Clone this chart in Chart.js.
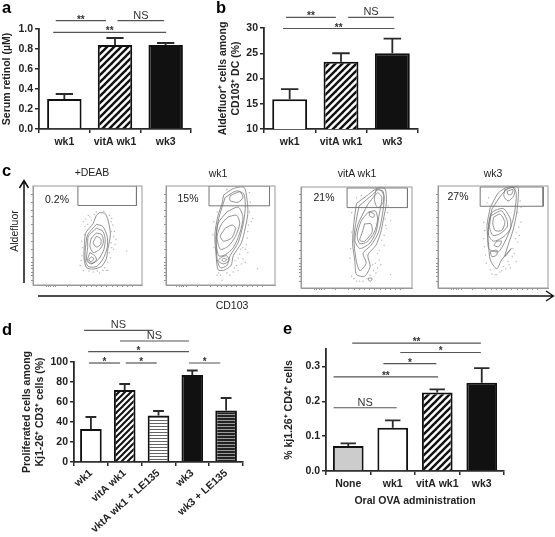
<!DOCTYPE html>
<html>
<head>
<meta charset="utf-8">
<title>Figure</title>
<script src="https://cdn.jsdelivr.net/npm/chart.js@4/dist/chart.umd.min.js"></script>
<style>
  html, body { margin: 0; background: #fff; }
  #fig { position: relative; width: 555px; height: 537px; overflow: hidden; filter: blur(0.3px); }
  #fig canvas { position: absolute; }
  #fig svg { position: absolute; left: 0; top: 0; }
  svg text { font-family: "Liberation Sans", Arial, sans-serif; fill: #222; }
  .letter { font-size: 16.5px; font-weight: bold; fill: #000; }
  .plain { font-size: 10.5px; text-anchor: middle; }
</style>
</head>
<body>
<div id="fig">
  <svg width="555" height="537">
    <text class="letter" x="2" y="13">a</text>
    <text class="letter" x="216" y="13">b</text>
    <text class="letter" x="2" y="176">c</text>
    <text class="letter" x="2" y="335">d</text>
    <text class="letter" x="283" y="334">e</text>

    <text class="plain" x="92" y="175.5">+DEAB</text>
    <text class="plain" x="218" y="176.5">wk1</text>
    <text class="plain" x="357" y="176.5">vitA wk1</text>
    <text class="plain" x="493" y="176.5">wk3</text>
    <text class="plain" x="57" y="202.5">0.2%</text>
    <text class="plain" x="188" y="202">15%</text>
    <text class="plain" x="324" y="201">21%</text>
    <text class="plain" x="458" y="200">27%</text>
    <text class="plain" transform="translate(17.5,231) rotate(-90)">Aldefluor</text>
    <text class="plain" x="232" y="309">CD103</text>

    <path d="M24 283 V181 M19.5 188 L24 180.5 L28.5 188" fill="none" stroke="#111" stroke-width="1.5"/>
    <path d="M38 296 H553 M546 291 L553.5 296 L546 301" fill="none" stroke="#111" stroke-width="1.3"/>
  </svg>
  <canvas id="chartA" width="200" height="165" style="left:0;top:0"></canvas>
  <canvas id="chartB" width="215" height="165" style="left:210px;top:0"></canvas>
  <canvas id="chartD" width="235" height="227" style="left:15px;top:310px"></canvas>
  <canvas id="chartE" width="240" height="197" style="left:275px;top:310px"></canvas>
  <canvas id="facs1" width="119" height="109" style="left:27px;top:182px"></canvas>
  <canvas id="facs2" width="119" height="109" style="left:160px;top:182px"></canvas>
  <canvas id="facs3" width="121" height="111" style="left:295px;top:183px"></canvas>
  <canvas id="facs4" width="120" height="112" style="left:432px;top:182px"></canvas>
</div>

<script>
// panel a
const aLabels = ["wk1", "vitA wk1", "wk3"];
const aValues = [0.30, 0.84, 0.84];
const aErrTop = [0.35, 0.91, 0.86];
const aSig = [[-0.17, 0.82, 1.084, "**"], [1.05, 1.97, 1.084, "NS"], [-0.22, 2.01, 0.967, "**"]];

// panel b
const bLabels = ["wk1", "vitA wk1", "wk3"];
const bValues = [15.9, 23.3, 25.0];
const bErrTop = [17.9, 25.0, 27.9];
const bSig = [[-0.07, 0.9, 32.1, "**"], [1.14, 2.03, 32.1, "NS"], [-0.13, 2.04, 29.9, "**"]];

// panel d
const dLabels = ["wk1", "vitA wk1", "vktA wk1 + LE135", "wk3", "wk3 + LE135"];
const dValues = [33, 72, 46.5, 87, 51.5];
const dErrTop = [45, 78, 51, 91.5, 64];
const dSig = [
  [-0.2, 1.83, 131.7, "NS"], [0.86, 2.9, 121, "NS"], [-0.08, 2.9, 110.4, "*"],
  [-0.06, 0.86, 99, "*"], [1.03, 1.95, 99, "*"], [2.9, 3.83, 99, "*"]
];

// panel e
const eLabels = ["None", "wk1", "vitA wk1", "wk3"];
const eValues = [0.072, 0.124, 0.225, 0.253];
const eErrTop = [0.079, 0.145, 0.234, 0.295];
const eSig = [
  [0.09, 2.98, 0.367, "**"], [1.17, 2.98, 0.34, "*"], [0.79, 1.98, 0.308, "*"],
  [-0.33, 2.02, 0.27, "**"], [-0.33, 1.09, 0.1815, "NS"]
];

// panel c: flow plots, values in channel units
const facsTicksX = [50, 58, 65, 72, 80, 115, 155, 175, 190, 205, 220, 235, 255, 270, 285, 300, 315];
const facsTicksY = [35, 60, 85, 105, 130, 155, 180, 205, 230, 245, 255, 265, 275, 285, 300];

const deabLimits = [10, 345, 10, 315];
const deabGate = [[148, 10], [328, 10], [328, 70], [148, 70], [148, 10]];
const deabContours = [
  [[215,92],[232,95],[243,125],[248,160],[240,205],[235,235],[220,258],[195,266],[175,262],[167,235],[168,190],[172,155],[195,125],[205,100],[215,92]],
  [[205,128],[225,135],[238,165],[238,200],[225,235],[205,258],[180,258],[170,235],[172,195],[178,160],[205,128]],
  [[205,140],[225,150],[232,175],[228,205],[212,235],[190,250],[175,240],[178,200],[180,165],[205,140]],
  [[205,155],[222,160],[226,185],[215,205],[195,215],[185,195],[190,170],[205,155]],
  [[205,165],[218,172],[218,190],[205,198],[195,185],[205,165]],
  [[185,215],[200,225],[205,238],[190,248],[178,238],[185,215]],
  [[190,228],[198,235],[188,243],[182,236],[190,228]]
];
const deabDots = [[180,100],[190,115],[245,100],[255,130],[260,150],[265,175],[250,185],[245,215],[240,245],[235,270],[215,278],[195,275],[165,270],[160,225],[160,180],[170,135],[165,120],[205,90],[298,210],[258,205],[225,270],[250,120],[185,105],[240,270],[155,255],[250,150],[172,112],[198,98],[228,88],[252,110],[258,165],[252,200],[262,190],[248,232],[230,262],[208,272],[182,272],[158,240],[162,200],[168,160],[178,128],[240,112]];

const wk1Limits = [17, 354, 10, 315];
const wk1Gate = [[150, 10], [337, 10], [337, 71], [150, 71], [150, 10]];
const wk1Contours = [
  [[195,38],[225,18],[258,14],[268,55],[270,95],[262,140],[250,185],[225,225],[218,255],[195,270],[178,268],[172,225],[168,160],[178,100],[190,65],[195,38]],
  [[200,45],[235,25],[258,35],[262,80],[255,130],[240,185],[215,225],[205,255],[185,262],[175,235],[172,165],[180,110],[200,45]],
  [[205,90],[240,75],[255,105],[245,155],[225,200],[200,222],[180,225],[172,180],[178,125],[205,90]],
  [[210,105],[235,100],[245,125],[232,165],[210,195],[185,205],[175,165],[190,125],[210,105]],
  [[200,140],[222,130],[232,140],[220,170],[195,180],[185,165],[200,140]],
  [[190,228],[205,225],[212,240],[195,250],[178,240],[190,228]],
  [[195,232],[205,237],[195,243],[190,238],[195,232]],
  [[215,40],[245,28],[255,45],[240,60],[215,55],[215,40]]
];
const wk1Dots = [[185,285],[190,300],[230,240],[245,220],[262,205],[255,235],[270,150],[280,120],[275,90],[205,20],[175,90],[165,120],[215,285],[240,270],[300,265],[175,285],[235,255],[265,190],[285,110],[262,245],[272,130],[268,170],[255,200],[240,232],[228,262],[205,278],[180,278],[165,200],[162,160],[172,70],[278,60],[275,30],[250,250],[225,275],[270,215],[248,205]];

const vitaLimits = [9, 351, 12, 321];
const vitaGate = [[151, 15], [337, 15], [337, 75], [151, 75], [151, 15]];
const vitaContours = [
  [[180,62],[210,40],[245,15],[268,18],[272,60],[262,115],[255,150],[240,190],[215,220],[222,255],[205,285],[180,280],[175,240],[168,185],[172,120],[180,62]],
  [[188,70],[230,35],[250,18],[265,40],[260,95],[248,150],[225,190],[200,215],[210,245],[190,268],[178,230],[172,170],[180,110],[188,70]],
  [[215,65],[245,30],[258,45],[250,95],[240,150],[220,185],[190,200],[175,175],[185,125],[215,65]],
  [[215,90],[238,85],[245,110],[235,150],[212,180],[190,185],[182,160],[195,115],[215,90]],
  [[220,88],[235,95],[232,105],[220,100],[220,88]],
  [[205,125],[225,125],[228,150],[205,178],[190,175],[198,150],[205,125]],
  [[240,20],[262,25],[262,60],[245,75],[235,50],[240,20]],
  [[218,290],[228,292],[224,300],[216,296],[218,290]]
];
const vitaDots = [[180,45],[165,90],[275,90],[285,115],[265,160],[250,235],[245,260],[190,300],[240,275],[160,230],[200,300],[270,130],[230,250],[265,190],[180,300],[285,280],[165,285],[250,205],[278,70],[272,140],[258,175],[245,215],[232,268],[222,282],[172,292],[162,200],[165,150],[195,38],[238,245],[212,292],[255,250],[268,110]];

const wk3Limits = [9, 348, 9, 321];
const wk3Gate = [[139, 12], [333, 12], [333, 71], [139, 71], [139, 12]];
const wk3Contours = [
  [[170,75],[195,30],[225,12],[255,12],[255,60],[250,100],[240,145],[225,190],[215,225],[235,200],[205,235],[190,262],[170,235],[165,190],[160,130],[170,75]],
  [[175,80],[205,35],[235,12],[250,30],[245,90],[232,140],[215,180],[195,210],[165,200],[165,130],[175,80]],
  [[165,125],[175,90],[210,78],[232,110],[232,140],[210,165],[180,178],[165,160],[165,125]],
  [[172,100],[205,85],[222,115],[222,135],[200,155],[178,160],[168,135],[172,100]],
  [[180,105],[200,95],[215,120],[205,145],[185,145],[178,125],[180,105]],
  [[190,178],[205,178],[195,195],[182,190],[190,178]],
  [[170,210],[190,205],[190,220],[175,225],[170,210]],
  [[215,20],[245,14],[242,40],[225,55],[212,40],[215,20]],
  [[222,25],[240,20],[235,35],[225,35],[222,25]]
];
const wk3Dots = [[160,60],[255,90],[265,120],[250,150],[240,200],[225,240],[245,215],[170,265],[185,280],[150,170],[255,180],[210,255],[150,120],[232,260],[190,280],[265,75],[155,220],[262,55],[258,135],[248,170],[238,225],[218,262],[200,272],[175,278],[158,245],[152,195],[153,145],[165,45],[228,250],[260,160],[250,240],[205,268]];

Chart.defaults.animation = false;
Chart.defaults.responsive = false;
Chart.defaults.font.family = '"Liberation Sans", Arial, sans-serif';
Chart.defaults.plugins.legend.display = false;
Chart.defaults.plugins.tooltip.enabled = false;

const INK = "#222";
const LINE = "#2a2a2a";

function hatchFill(size, width) {
  let c = document.createElement("canvas");
  c.width = size; c.height = size;
  let t = c.getContext("2d");
  t.fillStyle = "#fff";
  t.fillRect(0, 0, size, size);
  t.strokeStyle = "#111";
  t.lineWidth = width;
  [[0, size, size, 0], [-size, size, size, -size], [0, 2 * size, 2 * size, 0]].forEach(p => {
    t.beginPath(); t.moveTo(p[0], p[1]); t.lineTo(p[2], p[3]); t.stroke();
  });
  return t.createPattern(c, "repeat");
}

function stripeFill(rows) {
  let c = document.createElement("canvas");
  c.width = 1; c.height = rows.length;
  let t = c.getContext("2d");
  rows.forEach((col, i) => { t.fillStyle = col; t.fillRect(0, i, 1, 1); });
  return t.createPattern(c, "repeat");
}

function barPanel(id, o) {
  const errorBars = {
    id: "errorBars",
    afterDatasetsDraw(chart) {
      let ctx = chart.ctx, y = chart.scales.y;
      ctx.save();
      ctx.strokeStyle = LINE;
      ctx.lineWidth = 1.8;
      chart.getDatasetMeta(0).data.forEach((bar, i) => {
        let top = y.getPixelForValue(o.errTop[i]);
        let base = y.getPixelForValue(o.values[i]);
        let cap = bar.width * 0.25;
        ctx.beginPath();
        ctx.moveTo(bar.x, base); ctx.lineTo(bar.x, top);
        ctx.moveTo(bar.x - cap, top); ctx.lineTo(bar.x + cap, top);
        ctx.stroke();
      });
      ctx.restore();
    }
  };
  const sigLines = {
    id: "sigLines",
    afterDraw(chart) {
      let ctx = chart.ctx, xs = chart.scales.x, ys = chart.scales.y;
      ctx.save();
      ctx.textAlign = "center";
      ctx.textBaseline = "alphabetic";
      o.sig.forEach(s => {
        let x0 = xs.getPixelForValue(s[0]), x1 = xs.getPixelForValue(s[1]), yy = ys.getPixelForValue(s[2]);
        ctx.strokeStyle = "#555";
        ctx.lineWidth = 1.2;
        ctx.beginPath(); ctx.moveTo(x0, yy); ctx.lineTo(x1, yy); ctx.stroke();
        ctx.fillStyle = "#333";
        if (s[3] === "NS") {
          ctx.font = '11px "Liberation Sans", Arial, sans-serif';
          ctx.fillText(s[3], (x0 + x1) / 2, yy - 2);
        } else {
          ctx.font = 'bold 10px "Liberation Sans", Arial, sans-serif';
          ctx.fillText(s[3], (x0 + x1) / 2, yy + 2);
        }
      });
      ctx.restore();
    }
  };
  let tickFont = { size: 10.5, weight: "bold" };
  new Chart(document.getElementById(id).getContext("2d"), {
    type: "bar",
    data: {
      labels: o.labels,
      datasets: [{
        data: o.values,
        backgroundColor: o.fills,
        borderColor: "#111",
        borderWidth: 2,
        barPercentage: o.barPct,
        categoryPercentage: 1
      }]
    },
    options: {
      layout: { padding: { top: o.padTop, right: o.padRight, left: 0, bottom: 0 } },
      scales: {
        x: {
          afterFit: s => { s.height = o.xHeight; },
          grid: { drawOnChartArea: false, color: LINE, lineWidth: 1.5, tickLength: 4 },
          border: { color: LINE, width: 1.8 },
          ticks: {
            color: INK, font: tickFont, padding: o.rotate ? 1 : 3, autoSkip: false,
            minRotation: o.rotate || 0, maxRotation: o.rotate || 0
          },
          title: o.xTitle ? { display: true, text: o.xTitle, color: INK, font: { size: 10.5, weight: "bold" }, padding: 0 } : { display: false }
        },
        y: {
          min: o.min, max: o.max,
          afterFit: s => { s.width = o.yWidth; },
          grid: { drawOnChartArea: false, color: LINE, lineWidth: 1.5, tickLength: 4 },
          border: { color: LINE, width: 1.8 },
          ticks: {
            color: INK, font: tickFont, padding: 2, stepSize: o.step, includeBounds: false,
            callback: v => o.digits ? v.toFixed(o.digits) : String(v)
          },
          title: { display: true, text: o.yTitle, color: INK, font: { size: 10.5, weight: "bold" }, padding: { top: o.titleGap, bottom: 0 } }
        }
      }
    },
    plugins: [errorBars, sigLines]
  });
}

let diag = hatchFill(7, 2.4);
let diagFine = hatchFill(6, 2);
let lightStripes = stripeFill(["#fff", "#fff", "#666"]);
let darkStripes = stripeFill(["#222", "#222", "#999"]);

barPanel("chartA", {
  labels: aLabels, values: aValues, errTop: aErrTop, sig: aSig,
  fills: ["#fff", diag, "#111"], barPct: 0.68,
  min: 0, max: 1, step: 0.2, digits: 1,
  yTitle: "Serum retinol (µM)", titleGap: 1,
  padTop: 29, padRight: 9, xHeight: 36, yWidth: 39
});

barPanel("chartB", {
  labels: bLabels, values: bValues, errTop: bErrTop, sig: bSig,
  fills: ["#fff", diag, "#111"], barPct: 0.68,
  min: 10, max: 30, step: 5, digits: 0,
  yTitle: ["Aldefluor⁺ cells among", "CD103⁺ DC (%)"], titleGap: 7,
  padTop: 28, padRight: 7, xHeight: 36, yWidth: 54
});

barPanel("chartD", {
  labels: dLabels, values: dValues, errTop: dErrTop, sig: dSig,
  fills: ["#fff", diagFine, lightStripes, "#111", darkStripes], barPct: 0.64,
  min: 0, max: 100, step: 20, digits: 0, rotate: 42,
  yTitle: ["Proliferated cells among", "Kj1-26⁺ CD3⁺ cells (%)"], titleGap: 6,
  padTop: 52, padRight: 7, xHeight: 75, yWidth: 59
});

barPanel("chartE", {
  labels: eLabels, values: eValues, errTop: eErrTop, sig: eSig,
  fills: ["#ccc", "#fff", diag, "#111"], barPct: 0.69,
  min: 0, max: 0.35, step: 0.1, digits: 1,
  yTitle: "% kj1.26⁺ CD4⁺ cells", titleGap: 8,
  xTitle: "Oral OVA administration",
  padTop: 39, padRight: 11, xHeight: 36, yWidth: 51
});

function facsPanel(id, limits, gate, contours, dots) {
  const frame = {
    id: "frame",
    afterDraw(chart) {
      let a = chart.chartArea, ctx = chart.ctx;
      ctx.save();
      ctx.strokeStyle = "#999";
      ctx.lineWidth = 1;
      ctx.strokeRect(a.left, a.top, a.right - a.left, a.bottom - a.top);
      ctx.restore();
    }
  };
  let toXY = list => list.map(p => ({ x: p[0], y: p[1] }));
  let sets = [{
    data: toXY(dots), showLine: false, pointRadius: 0.7,
    pointBackgroundColor: "#b5b5b5", pointBorderWidth: 0
  }];
  contours.forEach(c => sets.push({
    data: toXY(c), showLine: true, tension: 0.25, pointRadius: 0,
    borderColor: "#777", borderWidth: 0.8, fill: false
  }));
  sets.push({
    data: toXY(gate), showLine: true, tension: 0, pointRadius: 0,
    borderColor: "#777", borderWidth: 1, fill: false
  });
  let tinyGrid = { drawOnChartArea: false, color: "#777", lineWidth: 0.8, tickLength: 2 };
  new Chart(document.getElementById(id).getContext("2d"), {
    type: "scatter",
    data: { datasets: sets },
    options: {
      layout: { padding: { top: 1, right: 1, left: 0, bottom: 0 } },
      scales: {
        x: {
          type: "linear", min: limits[0], max: limits[1],
          afterBuildTicks: s => { s.ticks = facsTicksX.map(v => ({ value: v })); },
          afterFit: s => { s.height = 6; },
          grid: tinyGrid, border: { color: "#999" },
          ticks: { display: false, autoSkip: false }
        },
        y: {
          type: "linear", min: limits[2], max: limits[3], reverse: true,
          afterBuildTicks: s => { s.ticks = facsTicksY.map(v => ({ value: v })); },
          afterFit: s => { s.width = 6; },
          grid: tinyGrid, border: { color: "#999" },
          ticks: { display: false, autoSkip: false }
        }
      }
    },
    plugins: [frame]
  });
}

facsPanel("facs1", deabLimits, deabGate, deabContours, deabDots);
facsPanel("facs2", wk1Limits, wk1Gate, wk1Contours, wk1Dots);
facsPanel("facs3", vitaLimits, vitaGate, vitaContours, vitaDots);
facsPanel("facs4", wk3Limits, wk3Gate, wk3Contours, wk3Dots);
</script>
</body>
</html>
